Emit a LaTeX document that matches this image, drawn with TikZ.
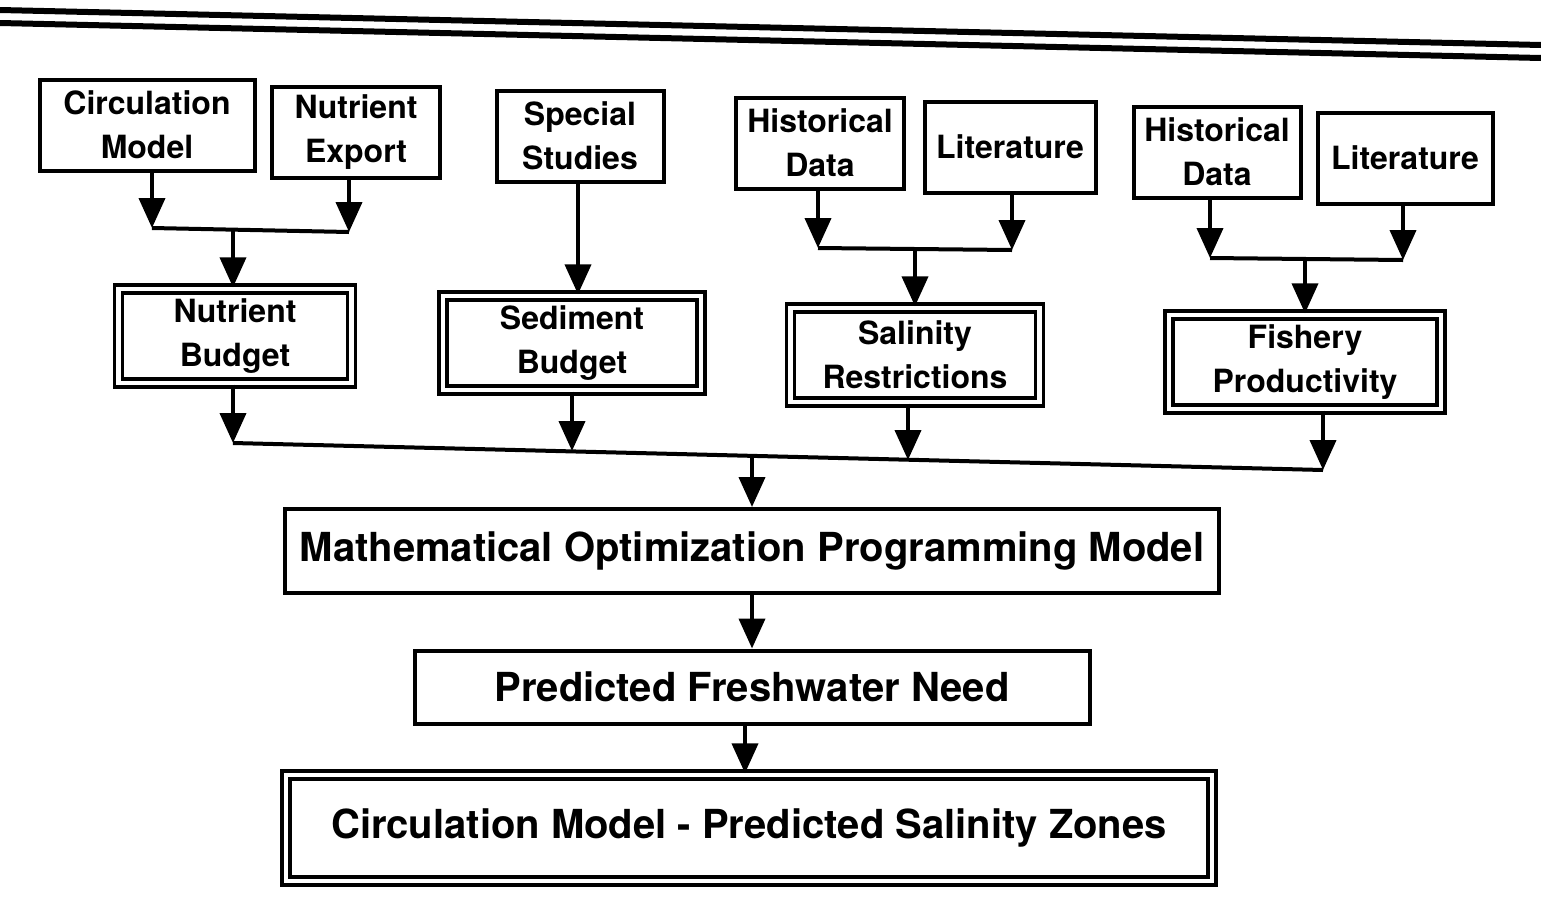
\documentclass[tikz,border=0pt]{standalone}
\usepackage{fontspec}
\setmainfont{TeX Gyre Heros}
\usetikzlibrary{arrows.meta}
\newcommand{\boxfont}{\fontsize{16}{22}\selectfont\bfseries}
\newcommand{\wideboxfont}{\fontsize{20}{24}\selectfont\bfseries}
\begin{document}
\begin{tikzpicture}
[x=0.5pt,y=-0.5pt,
 boxdecorate/.style={shape=rectangle,draw,line width=2pt,inner sep=0pt,align=center,font=\boxfont},
 doubledecorate/.style={boxdecorate,double,line width=1.7pt,double distance=2.4pt},
 widedecorate/.style={font=\wideboxfont},
 arrowdecorate/.style={line width=2pt,-{Triangle[width=13pt,length=15pt]}},
 linedecorate/.style={-,line width=2pt}]
\useasboundingbox (0,0) rectangle (1541,900);
%% top rule
\draw[line width=3pt] (0,10) -- (1541,45);
\draw[line width=3pt] (0,23) -- (1541,58);
%% sources
\foreach \nodename/\x/\y/\w/\txt in {CirculationModel/147/125/107.5/Circulation\\Model,
  NutrientExport/356/132/84/Nutrient\\Export, SpecialStudies/580/136/83.5/Special\\Studies,
  HistoricalA/820/143/84/Historical\\Data, LiteratureA/1010/147/85.5/Literature,
  HistoricalB/1217/152/83.5/Historical\\Data, LiteratureB/1405/158/87.5/Literature}
{
  \node (\nodename) at (\x,\y) [boxdecorate,minimum width=\w pt,minimum height=45.5pt] {\txt};
}
%% budgets
\foreach \nodename/\x/\y/\w/\txt in {NutrientBudget/235/336/116.5/Nutrient\\Budget,
  SedimentBudget/572/343/129/Sediment\\Budget, SalinityRestrictions/915/355/124.5/Salinity\\Restrictions,
  FisheryProductivity/1305/362/136/Fishery\\Productivity}
{
  \node (\nodename) at (\x,\y) [doubledecorate,minimum width=\w pt,minimum height=47pt] {\txt};
}
%% model chain
\node (OptModel) at (752,551) [boxdecorate,widedecorate,minimum width=467pt,minimum height=42pt]
  {Mathematical Optimization Programming Model};
\node (FreshwaterNeed) at (752,687) [boxdecorate,widedecorate,minimum width=337.5pt,minimum height=36.5pt]
  {Predicted Freshwater Need};
\node (SalinityZones) at (749,828) [doubledecorate,widedecorate,minimum width=463pt,minimum height=53pt]
  {Circulation Model - Predicted Salinity Zones};
%% joins of the sources
\foreach \nodename/\x/\y in {CirculationModel/152/228, NutrientExport/349/232,
  HistoricalA/818/248, LiteratureA/1012/250, HistoricalB/1210/258, LiteratureB/1403/260}
{
  \coordinate (\nodename Foot) at (\x,\y);
  \draw[arrowdecorate] (\nodename.south -| \nodename Foot) -- (\nodename Foot);
}
\coordinate (NutrientJoin) at (233,230);
\coordinate (SedimentJoin) at (578,183);
\coordinate (SalinityJoin) at (915,249);
\coordinate (FisheryJoin) at (1305,259);
\path
\foreach \startnode/\endnode in {CirculationModelFoot/NutrientExportFoot,
  HistoricalAFoot/LiteratureAFoot, HistoricalBFoot/LiteratureBFoot}
{
  (\startnode) edge[linedecorate] (\endnode)
};
\draw[arrowdecorate] (NutrientJoin) -- (NutrientJoin |- NutrientBudget.north);
\draw[arrowdecorate] (SpecialStudies.south -| SedimentJoin) -- (SedimentJoin |- SedimentBudget.north);
\draw[arrowdecorate] (SalinityJoin) -- (SalinityJoin |- SalinityRestrictions.north);
\draw[arrowdecorate] (FisheryJoin) -- (FisheryJoin |- FisheryProductivity.north);
%% collector
\foreach \nodename/\x/\y in {NutrientBudget/233/443, SedimentBudget/572/451,
  SalinityRestrictions/908/460, FisheryProductivity/1323/470}
{
  \coordinate (\nodename Foot) at (\x,\y);
  \draw[arrowdecorate] (\nodename.south -| \nodename Foot) -- (\nodename Foot);
}
\draw[linedecorate] (NutrientBudgetFoot) -- (FisheryProductivityFoot);
\coordinate (ModelJoin) at (752,456);
\draw[arrowdecorate] (ModelJoin) -- (OptModel.north);
\draw[arrowdecorate] (OptModel.south) -- (FreshwaterNeed.north);
\draw[arrowdecorate] (FreshwaterNeed.south -| 745,0) -- (SalinityZones.north -| 745,0);
\end{tikzpicture}
\end{document}
